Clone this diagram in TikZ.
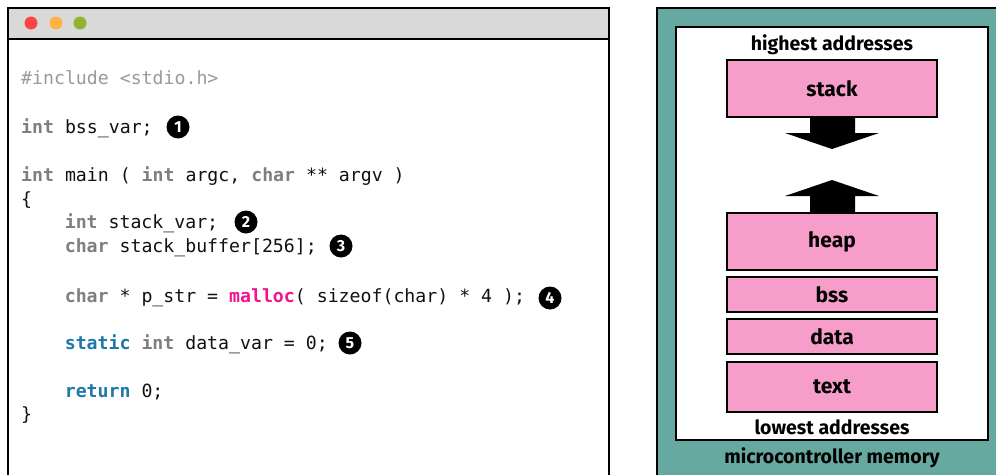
\documentclass[tikz,border=0pt]{standalone}
\usepackage{fontspec}
\newfontfamily\codefont{DejaVu Sans Mono}
\newfontfamily\labfont{Fira Sans}
\definecolor{kwgray}{HTML}{7F7F7F}
\definecolor{incgray}{HTML}{9A9A9A}
\definecolor{kwblue}{HTML}{1F78A8}
\definecolor{mallocpink}{HTML}{F2148C}
\definecolor{codeblack}{HTML}{111111}
\definecolor{barfill}{HTML}{D9D9D9}
\definecolor{dotred}{HTML}{FF4444}
\definecolor{dotorange}{HTML}{FFB347}
\definecolor{dotgreen}{HTML}{8DB532}
\definecolor{teal}{HTML}{66A9A0}
\definecolor{segpink}{HTML}{F79DC9}
\newcommand{\kw}[1]{{\color{kwgray}\bfseries #1}}
\newcommand{\kb}[1]{{\color{kwblue}\bfseries #1}}
\begin{document}
\begin{tikzpicture}[x=1pt,y=-1pt,
  codeline/.style={anchor=base west, inner sep=0, text=codeblack, font=\codefont\fontsize{18.2}{20}\selectfont},
  badge/.style={circle, fill=black, text=white, minimum size=23pt, inner sep=0, font=\labfont\bfseries\fontsize{16}{16}\selectfont},
  seg/.style={draw=black, line width=2pt, fill=segpink, minimum width=210pt, inner sep=0, font=\labfont\bfseries\fontsize{21}{21}\selectfont},
  lab/.style={inner sep=0, font=\labfont\bfseries\fontsize{19.5}{19.5}\selectfont}]
\useasboundingbox (0,0) rectangle (996,474);
\begin{scope}
\clip (0,0) rectangle (996,474);
% left window
\draw[line width=2pt, fill=white] (8,8) rectangle (609,490);
\draw[line width=2pt, fill=barfill] (8,8) rectangle (609,39);
\fill[dotred] (31,23) circle (6.5);
\fill[dotorange] (56,23) circle (6.5);
\fill[dotgreen] (80,23) circle (6.5);
% code
\node[codeline] (l1) at (21,84) {{\color{incgray}\#include <stdio.h>}};
\node[codeline] (l2) at (21,133) {\kw{int} bss\_var;};
\node[codeline] (l3) at (21,181) {\kw{int} main ( \kw{int} argc, \kw{char} ** argv )};
\node[codeline] (l4) at (21,205) {\{};
\node[codeline] (l5) at (64.6,228) {\kw{int} stack\_var;};
\node[codeline] (l6) at (64.6,252) {\kw{char} stack\_buffer[256];};
\node[codeline] (l7) at (64.6,302) {\kw{char} * p\_str = {\color{mallocpink}\bfseries malloc}( sizeof(char) * 4 );};
\node[codeline] (l8) at (64.6,349) {\kb{static} \kw{int} data\_var = 0;};
\node[codeline] (l9) at (64.6,397) {\kb{return} 0;};
\node[codeline] (l10) at (21,420) {\}};
\node[badge] (b1) at (178,127) {1};
\node[badge] (b2) at (246,222) {2};
\node[badge] (b3) at (341,246) {3};
\node[badge] (b4) at (550,298) {4};
\node[badge] (b5) at (350,343) {5};
% right panel
\draw[line width=2pt, fill=teal] (657,8) rectangle (1010,490);
\draw[line width=2pt, fill=white] (676,27) rectangle (988,440);
\node[lab] (hi) at (832,45) {highest addresses};
\node[seg, minimum height=57pt] (stack) at (832,88.5) {stack};
\node[seg, minimum height=57pt] (heap) at (832,241.5) {heap};
\node[seg, minimum height=35pt] (bss) at (832,294.5) {bss};
\node[seg, minimum height=35pt] (data) at (832,336.5) {data};
\node[seg, minimum height=50pt] (text) at (832,387) {text};
\node[lab] (lo) at (832,427) {lowest addresses};
\node[lab] (mc) at (832,458) {microcontroller memory};
% growth arrows
\fill[black] (810,118) -- (855,118) -- (855,133) -- (879,133) -- (832,149) -- (785,133) -- (810,133) -- cycle;
\fill[black] (810,212) -- (855,212) -- (855,196) -- (879,196) -- (832,180) -- (785,196) -- (810,196) -- cycle;
\end{scope}
\end{tikzpicture}
\end{document}
